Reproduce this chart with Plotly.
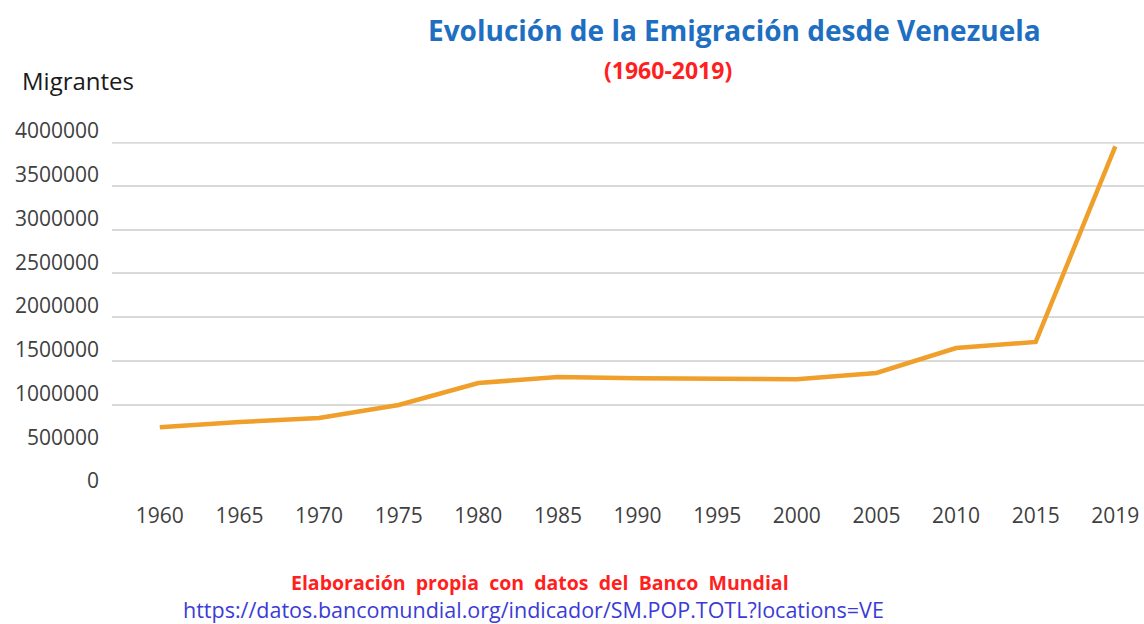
import plotly.graph_objects as go

years = ["1960", "1965", "1970", "1975", "1980", "1985", "1990",
         "1995", "2000", "2005", "2010", "2015", "2019"]
migrantes = [740000, 800000, 845000, 995000, 1245000, 1315000, 1300000,
             1300000, 1290000, 1360000, 1645000, 1715000, 3950000]

y_ticks = [0, 500000, 1000000, 1500000, 2000000, 2500000, 3000000, 3500000, 4000000]
grid_ticks = [1000000, 1500000, 2000000, 2500000, 3000000, 3500000]

title_text = "Evolución de la Emigración desde Venezuela"
subtitle_text = "(1960-2019)"
y_title = "Migrantes"
source_text = "Elaboración  propia  con  datos  del  Banco  Mundial"
url_text = "https://datos.bancomundial.org/indicador/SM.POP.TOTL?locations=VE"

font_family = "Open Sans, Lato, sans-serif"

fig = go.Figure()
fig.add_trace(go.Scatter(
    x=years, y=migrantes, mode="lines",
    line=dict(color="#EF9F2A", width=4.5),
    showlegend=False, hoverinfo="x+y",
))
# invisible trace on second y axis to carry gridlines
fig.add_trace(go.Scatter(
    x=years, y=migrantes, yaxis="y2", mode="lines",
    line=dict(width=0), opacity=0, showlegend=False, hoverinfo="skip",
))

W, H = 1144, 624
L, R, T, B = 112, 0, 142, 132

fig.update_layout(
    width=W, height=H,
    margin=dict(l=L, r=R, t=T, b=B),
    paper_bgcolor="white", plot_bgcolor="white",
    font=dict(family=font_family, color="#595959"),
    xaxis=dict(
        type="category", range=[-0.6, 12.36],
        showgrid=False, zeroline=False, showline=False, ticks="",
        tickfont=dict(size=21, color="#404040"),
        ticklabelstandoff=9,
    ),
    yaxis=dict(
        range=[0, 4000000], tickvals=y_ticks,
        ticktext=[str(v) for v in y_ticks],
        showgrid=False, zeroline=False, showline=False, ticks="",
        tickfont=dict(size=21, color="#404040"),
        ticklabelshift=-11, ticklabelstandoff=12,
    ),
    yaxis2=dict(
        range=[0, 4000000], overlaying="y", tickvals=grid_ticks,
        showgrid=True, gridcolor="#D9D9D9", gridwidth=1.5,
        showticklabels=False, zeroline=False, showline=False, ticks="",
    ),
    shapes=[dict(
        type="line", xref="paper", yref="y", x0=0, x1=1,
        y0=y_ticks[-1], y1=y_ticks[-1],
        line=dict(color="#DADADA", width=3.5), layer="below",
    )],
)

pw, ph = W - L - R, H - T - B

def px(x):
    return (x - L) / pw

def py(y):
    return (H - B - y) / ph

texts = [
    ("<b>" + title_text + "</b>", 734, 30, "center", 28, "#1E6FC1"),
    ("<b>" + subtitle_text + "</b>", 668, 70, "center", 23, "#FF1F1F"),
    (y_title, 20, 80, "left", 24, "#1a1a1a"),
    ("<b>" + source_text + "</b>", 540, 582, "center", 19.5, "#FF1F1F"),
    (url_text, 533, 609, "center", 21.5, "#3B3BD6"),
]
for t, x, y, anc, size, col in texts:
    fig.add_annotation(
        text=t, xref="paper", yref="paper", x=px(x), y=py(y),
        xanchor=anc, yanchor="middle", showarrow=False,
        font=dict(size=size, color=col),
    )

fig.write_html("out.html", config={"displayModeBar": False},
               post_script="document.body.style.margin='0';")
